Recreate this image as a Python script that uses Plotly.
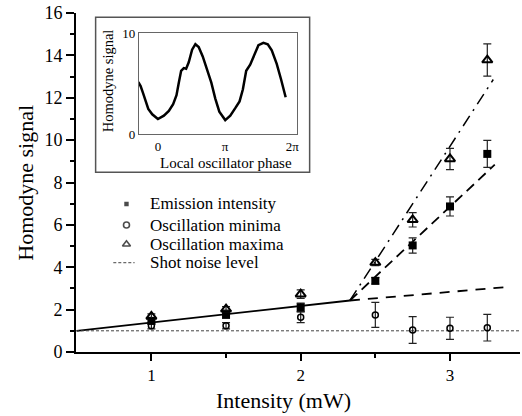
import numpy as np
import plotly.graph_objects as go

# Data
intensity = [1.0, 1.5, 2.0, 2.5, 2.75, 3.0, 3.25]
emission = [1.47, 1.78, 2.11, 3.36, 5.03, 6.87, 9.35]
emission_err = [0.15, 0.2, 0.2, 0.15, 0.36, 0.45, 0.64]
minima = [1.24, 1.24, 1.64, 1.75, 1.04, 1.12, 1.15]
minima_err = [0.15, 0.15, 0.25, 0.59, 0.63, 0.52, 0.63]
maxima = [1.68, 2.02, 2.73, 4.22, 6.24, 9.11, 13.78]
maxima_err = [0.12, 0.12, 0.2, 0.15, 0.34, 0.5, 0.76]

# fitted lines (x, y endpoints)
below_x = [0.5, 2.33]
below_y = [1.0, 2.43]
flat_x = [2.33, 3.37]
flat_y = [2.43, 3.06]
emis_fit_x = [2.33, 3.30]
emis_fit_y = [2.43, 8.84]
max_fit_x = [2.33, 3.29]
max_fit_y = [2.43, 12.86]
shot_noise = 1.0

# inset: homodyne signal vs local oscillator phase (in units of pi)
phase_pi = [-0.291, -0.257, -0.222, -0.183, -0.143, -0.084, 0.0, 0.089, 0.163, 0.227,
            0.277, 0.311, 0.346, 0.385, 0.420, 0.459, 0.509, 0.558, 0.607, 0.667,
            0.731, 0.795, 0.854, 0.914, 1.002, 1.077, 1.151, 1.215, 1.264, 1.314,
            1.373, 1.422, 1.496, 1.570, 1.635, 1.694, 1.768, 1.832, 1.881, 1.901]
inset_signal = [5.18, 4.78, 4.10, 3.26, 2.52, 1.98, 1.51, 1.85, 2.32, 2.99,
                3.87, 5.11, 6.29, 6.56, 6.49, 7.13, 8.38, 8.92, 8.65, 7.71,
                6.46, 5.11, 3.54, 2.25, 1.41, 1.85, 2.59, 3.26, 4.44, 6.29,
                6.90, 7.64, 8.82, 9.05, 8.92, 8.31, 6.97, 5.45, 4.10, 3.67]

legend_labels = ["Emission intensity", "Oscillation minima", "Oscillation maxima", "Shot noise level"]

FONT = "Liberation Serif"
err_style = dict(type="data", thickness=1.2, width=4, color="#222")

fig = go.Figure()

# fit lines
fig.add_trace(go.Scatter(x=below_x, y=below_y, mode="lines", line=dict(color="black", width=1.8)))
fig.add_trace(go.Scatter(x=flat_x, y=flat_y, mode="lines", line=dict(color="black", width=1.8, dash="10px,8px")))
fig.add_trace(go.Scatter(x=emis_fit_x, y=emis_fit_y, mode="lines", line=dict(color="black", width=1.8, dash="10px,6px")))
fig.add_trace(go.Scatter(x=max_fit_x, y=max_fit_y, mode="lines", line=dict(color="black", width=1.5, dash="12px,6px,2px,6px")))
fig.add_trace(go.Scatter(x=[0.495, 3.469], y=[shot_noise, shot_noise], mode="lines",
                         line=dict(color="#444", width=1, dash="3px,2px")))

# data points
fig.add_trace(go.Scatter(x=intensity, y=minima, mode="markers",
                         error_y=dict(array=minima_err, **err_style),
                         marker=dict(symbol="circle-open", size=6, color="black", line=dict(width=1.5))))
fig.add_trace(go.Scatter(x=intensity, y=emission, mode="markers",
                         error_y=dict(array=emission_err, **err_style),
                         marker=dict(symbol="square", size=8, color="black")))
fig.add_trace(go.Scatter(x=intensity, y=maxima, mode="markers",
                         error_y=dict(array=maxima_err, **err_style),
                         marker=dict(symbol="triangle-up-open", size=9, color="black", line=dict(width=2))))

# inset curve
fig.add_trace(go.Scatter(x=np.array(phase_pi) * np.pi, y=inset_signal, mode="lines",
                         line=dict(color="black", width=2.5), xaxis="x2", yaxis="y2"))

# legend keys drawn on a hidden overlay axis (0..1 = plot area)
key_x = 0.1137
key_y = [0.4366, 0.3746, 0.3177, 0.2634]
fig.add_trace(go.Scatter(x=[key_x] * 3, y=key_y[:3], mode="markers", xaxis="x3", yaxis="y3",
                         marker=dict(symbol=["square", "circle-open", "triangle-up-open"],
                                     size=[6, 6, 7], color="black", line=dict(width=1.6))))
fig.add_trace(go.Scatter(x=[0.084, 0.132], y=[key_y[3]] * 2, mode="lines", xaxis="x3", yaxis="y3",
                         line=dict(color="#444", width=1, dash="3px,2px")))

annotations = []
for lab, yy in zip(legend_labels, key_y):
    annotations.append(dict(text=lab, x=0.162, y=yy, xref="paper", yref="paper",
                            xanchor="left", yanchor="middle", showarrow=False,
                            font=dict(family=FONT, size=17, color="black")))

annotations += [
    dict(text="Homodyne signal", x=-0.1143, y=0.5, xref="paper", yref="paper", textangle=-90,
         showarrow=False, xanchor="center", yanchor="middle", font=dict(family=FONT, size=22, color="black")),
    dict(text="Intensity (mW)", x=0.4664, y=-0.1416, xref="paper", yref="paper",
         showarrow=False, xanchor="center", yanchor="middle", font=dict(family=FONT, size=22, color="black")),
    dict(text="Homodyne signal", x=0.074, y=0.801, xref="paper", yref="paper", textangle=-90,
         showarrow=False, xanchor="center", yanchor="middle", font=dict(family=FONT, size=14.5, color="black")),
    dict(text="Local oscillator phase", x=0.3379, y=0.5584, xref="paper", yref="paper",
         showarrow=False, xanchor="center", yanchor="middle", font=dict(family=FONT, size=15, color="black")),
]

fig.update_layout(
    width=522, height=416,
    margin=dict(l=76, r=0, t=13, b=64),
    paper_bgcolor="white", plot_bgcolor="rgba(0,0,0,0)",
    showlegend=False,
    hovermode=False,
    font=dict(family=FONT, color="black"),
    annotations=annotations,
    shapes=[dict(type="rect", xref="paper", yref="paper", x0=0.0442, x1=0.5262, y0=0.5301, y1=0.9873,
                 line=dict(color="#555", width=1.5), fillcolor="white", layer="below")],
    xaxis=dict(range=[0.495, 3.469], showline=True, linewidth=2, linecolor="black",
               ticks="outside", ticklen=7, tickwidth=1.5, tickcolor="black",
               tickvals=[1, 2, 3], tickfont=dict(size=17),
               minor=dict(tickvals=[1.5, 2.5], ticks="outside", ticklen=4, tickwidth=1.5, tickcolor="black"),
               showgrid=False, zeroline=False),
    yaxis=dict(range=[0, 16], showline=True, linewidth=2, linecolor="black",
               ticks="outside", ticklen=8, tickwidth=1.5, tickcolor="black",
               dtick=2, tickfont=dict(size=18),
               minor=dict(dtick=1, ticks="outside", ticklen=4, tickwidth=1.5, tickcolor="black"),
               showgrid=False, zeroline=False),
    xaxis2=dict(domain=[0.1419, 0.4984], anchor="y2", range=[-0.281 * np.pi, 2.074 * np.pi],
                showline=True, mirror=True, linecolor="#666", linewidth=1.3,
                tickvals=[0, np.pi, 2 * np.pi], ticktext=["0", "π", "2π"], ticks="",
                tickfont=dict(size=13), showgrid=False, zeroline=False),
    yaxis2=dict(domain=[0.6421, 0.9401], anchor="x2", range=[0, 10],
                showline=True, mirror=True, linecolor="#666", linewidth=1.3,
                tickvals=[0, 10], ticks="", tickfont=dict(size=13), showgrid=False, zeroline=False),
    xaxis3=dict(domain=[0, 1], anchor="y3", overlaying="x", range=[0, 1], visible=False),
    yaxis3=dict(domain=[0, 1], anchor="x3", overlaying="y", range=[0, 1], visible=False),
)

# remove the default page margin so the figure sits at the window's corner
fig.write_html("out.html", config={"displayModeBar": False},
               post_script="document.body.style.margin='0';")
